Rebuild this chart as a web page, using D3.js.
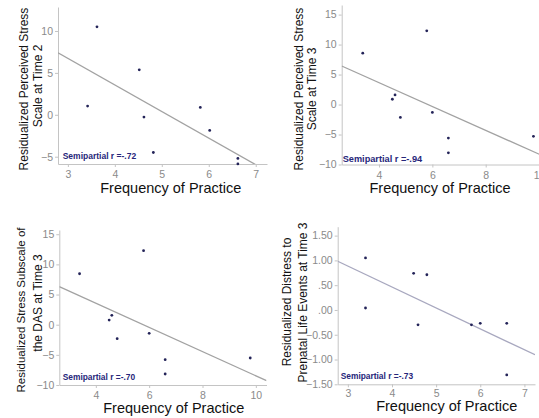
<!DOCTYPE html>
<html>
<head>
<meta charset="utf-8">
<script src="https://cdn.jsdelivr.net/npm/d3@7"></script>
<style>
  body { margin: 0; background: #fff; }
  svg { display: block; font-family: Arial, "Liberation Sans", sans-serif; }
  .axis path, .axis line { stroke: #c4c4c4; }
  .axis text { fill: #8a8a8a; font-size: 10.5px; font-family: Arial, "Liberation Sans", sans-serif; }
  .axis-title { fill: #111; }
  .semi { fill: #26267a; font-weight: bold; }
  .dot { fill: #232358; }
</style>
</head>
<body>
<svg id="chart" width="539" height="418"></svg>
<script>
const practiceA = [3.62, 3.42, 4.52, 4.62, 4.82, 5.82, 6.02, 6.62, 6.62];
const perceivedStressT2 = [10.5, 1.04, 5.36, -0.27, -4.5, 0.88, -1.87, -5.2, -5.86];

const practiceB = [3.39, 5.79, 4.5, 4.6, 4.8, 6.0, 6.6, 6.6, 9.79];
const perceivedStressT3 = [8.56, 12.3, 0.88, 1.6, -2.15, -1.32, -5.6, -8.06, -5.3];
const dasStressT3 = [8.45, 12.27, 0.77, 1.55, -2.32, -1.44, -5.8, -8.18, -5.52];

const practiceC = [3.4, 3.4, 4.49, 4.79, 4.59, 5.8, 6.0, 6.6, 6.6];
const prenatalDistressT3 = [1.05, 0.04, 0.74, 0.71, -0.30, -0.30, -0.27, -0.27, -1.31];

const semipartialR = ['-.72', '-.94', '-.70', '-.73'];

const xTicksNarrow = [3, 4, 5, 6, 7];
const xTicksWide = [4, 6, 8, 10];
const yTicksStressT2 = [-5, 0, 5, 10];
const yTicksWide = [-10, -5, 0, 5, 10, 15];
const yTicksDistress = [-1.5, -1, -0.5, 0, 0.5, 1, 1.5];

const xTitle = 'Frequency of Practice';

class Scatterplot {

  constructor(_config, _x, _y) {
    this.config = _config;
    this.data = _x.map((d, i) => ({ x: d, y: _y[i] }));
    this.initVis();
  }

  initVis() {
    let vis = this;
    const c = vis.config;

    vis.xScale = d3.scaleLinear().domain(c.xDomain).range([c.left, c.right]);
    vis.yScale = d3.scaleLinear().domain(c.yDomain).range([c.bottom, c.top]);

    vis.xAxis = d3.axisBottom(vis.xScale)
      .tickValues(c.xTicks)
      .tickSize(3)
      .tickPadding(c.xPad || 4)
      .tickSizeOuter(0)
      .tickFormat(d3.format('d'));

    vis.yAxis = d3.axisLeft(vis.yScale)
      .tickValues(c.yTicks)
      .tickSize(3)
      .tickPadding(2)
      .tickSizeOuter(0)
      .tickFormat(c.yFormat || d3.format('d'));

    vis.g = d3.select('#chart').append('g');

    // clip so the fit line stops at the axes
    vis.g.append('clipPath')
      .attr('id', c.id + '-clip')
      .append('rect')
      .attr('x', c.left)
      .attr('y', c.top)
      .attr('width', c.right - c.left)
      .attr('height', c.bottom - c.top);

    vis.g.append('g')
      .attr('class', 'axis x-axis')
      .attr('transform', `translate(0,${c.bottom})`)
      .call(vis.xAxis);

    vis.g.append('g')
      .attr('class', 'axis y-axis')
      .attr('transform', `translate(${c.left},0)`)
      .call(vis.yAxis);

    // axis titles
    vis.g.append('text')
      .attr('class', 'axis-title')
      .attr('x', c.xTitle[0])
      .attr('y', c.xTitle[1])
      .attr('text-anchor', 'middle')
      .style('font-size', '14.5px')
      .text(xTitle);

    c.yTitle.forEach(t => {
      vis.g.append('text')
        .attr('class', 'axis-title')
        .attr('transform', `translate(${t.x},${t.cy}) rotate(-90)`)
        .attr('text-anchor', 'middle')
        .style('font-size', (t.size || 12) + 'px')
        .text(t.text);
    });

    vis.g.append('text')
      .attr('class', 'semi')
      .attr('x', c.semi[0])
      .attr('y', c.semi[1])
      .style('font-size', c.semiSize + 'px')
      .text('Semipartial r =' + c.r);

    vis.renderVis();
  }

  renderVis() {
    let vis = this;
    const c = vis.config;

    // least squares fit through the points
    const mx = d3.mean(vis.data, d => d.x);
    const my = d3.mean(vis.data, d => d.y);
    const slope = d3.sum(vis.data, d => (d.x - mx) * (d.y - my)) / d3.sum(vis.data, d => (d.x - mx) ** 2);
    const fit = c.xDomain.map(x => ({ x: x, y: my + slope * (x - mx) }));

    vis.g.append('path')
      .datum(fit)
      .attr('clip-path', `url(#${c.id}-clip)`)
      .attr('fill', 'none')
      .attr('stroke', c.lineColor)
      .attr('stroke-width', 1.3)
      .attr('d', d3.line().x(d => vis.xScale(d.x)).y(d => vis.yScale(d.y)));

    vis.g.selectAll('.dot')
      .data(vis.data)
      .join('circle')
      .attr('class', 'dot')
      .attr('cx', d => vis.xScale(d.x))
      .attr('cy', d => vis.yScale(d.y))
      .attr('r', 1.4);
  }
}

const decimalFormat = v => d3.format('.2f')(v).replace(/^(-?)0\./, '$1.');

new Scatterplot({
  id: 'p1', left: 58, right: 267, top: 7, bottom: 164,
  xDomain: [2.79, 7.24], yDomain: [-5.87, 12.86],
  xTicks: xTicksNarrow, yTicks: yTicksStressT2,
  xTitle: [170.8, 193],
  yTitle: [
    { text: 'Residualized Perceived Stress', x: 28.3, cy: 89 },
    { text: 'Scale at Time 2', x: 42.3, cy: 86 }
  ],
  semi: [62.7, 159.3], semiSize: 8.5, r: semipartialR[0],
  lineColor: '#a2a2a2'
}, practiceA, perceivedStressT2);

new Scatterplot({
  id: 'p2', left: 341.7, right: 549.7, top: 5, bottom: 164.5,
  xDomain: [2.6, 10.4], yDomain: [-10, 16.6],
  xTicks: xTicksWide, yTicks: yTicksWide,
  xTitle: [440, 193],
  yTitle: [
    { text: 'Residualized Perceived Stress', x: 302.5, cy: 89 },
    { text: 'Scale at Time 3', x: 316, cy: 89 }
  ],
  semi: [342.7, 161.7], semiSize: 9.2, r: semipartialR[1],
  lineColor: '#a2a2a2'
}, practiceB, perceivedStressT3);

new Scatterplot({
  id: 'p3', left: 59.3, right: 266.5, top: 230, bottom: 385,
  xDomain: [2.63, 10.4], yDomain: [-10, 15.7],
  xTicks: xTicksWide, yTicks: yTicksWide,
  xTitle: [173.8, 413],
  yTitle: [
    { text: 'Residualized Stress Subscale of', x: 25, cy: 310, size: 11.5 },
    { text: 'the DAS at Time 3', x: 41.7, cy: 303 }
  ],
  semi: [62.7, 380], semiSize: 8.4, r: semipartialR[2],
  lineColor: '#a2a2a2'
}, practiceB, dasStressT3);

new Scatterplot({
  id: 'p4', left: 337.7, right: 535, top: 226.7, bottom: 384.3,
  xDomain: [2.77, 7.24], yDomain: [-1.5, 1.68],
  xTicks: xTicksNarrow, yTicks: yTicksDistress, yFormat: decimalFormat, xPad: 2.5,
  xTitle: [446.7, 411],
  yTitle: [
    { text: 'Residualized Distress to', x: 291, cy: 302 },
    { text: 'Prenatal Life Events at Time 3', x: 306.5, cy: 302.5 }
  ],
  semi: [340.7, 379], semiSize: 8.4, r: semipartialR[3],
  lineColor: '#a8a8bf'
}, practiceC, prenatalDistressT3);
</script>
</body>
</html>
